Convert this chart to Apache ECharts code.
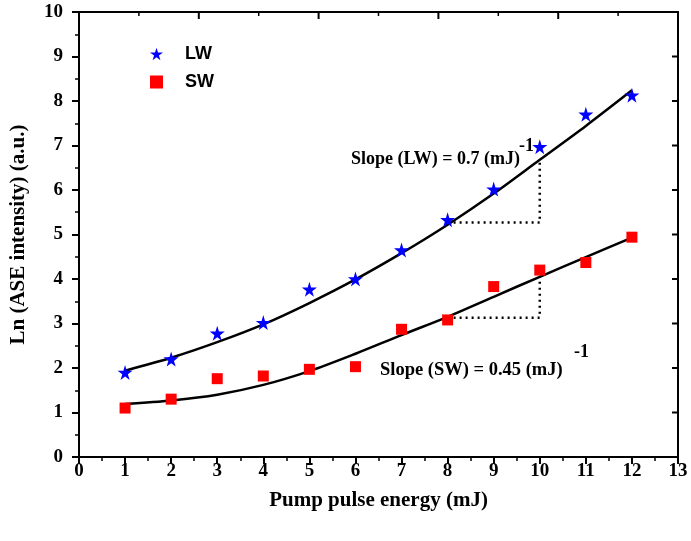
<!DOCTYPE html>
<html>
<head>
<meta charset="utf-8">
<script src="https://cdn.jsdelivr.net/npm/echarts@6/dist/echarts.min.js"></script>
<style>
  html, body { margin: 0; padding: 0; background: #fff; }
  #chart { width: 691px; height: 541px; }
</style>
</head>
<body>
<div id="chart"></div>
<script>
// measured points
var energy = [1, 2, 3, 4, 5, 6, 7, 8, 9, 10, 11, 12];
var lwData = [1.9, 2.2, 2.78, 3.02, 3.77, 4.0, 4.65, 5.33, 6.02, 6.97, 7.7, 8.13];
var swData = [1.1, 1.3, 1.76, 1.82, 1.97, 2.03, 2.87, 3.08, 3.83, 4.2, 4.37, 4.94];
// fitted curves
var lwFit = [1.94, 2.23, 2.58, 2.98, 3.46, 3.99, 4.58, 5.22, 5.92, 6.68, 7.44, 8.24];
var swFit = [1.19, 1.27, 1.4, 1.62, 1.93, 2.32, 2.74, 3.15, 3.6, 4.05, 4.49, 4.93];
// slope triangles (x, y corner points)
var lwSlopeX = [8, 10, 10];
var lwSlopeY = [5.27, 5.27, 6.7];
var swSlopeX = [8, 10, 10];
var swSlopeY = [3.13, 3.13, 4.05];
// frame ticks on the top and right edges (1 = major, 0 = minor)
var topTickX = [1.3, 2.6, 3.9, 5.2, 6.5, 7.8, 9.1, 10.4, 11.7];
var topTickMajor = [0, 1, 0, 1, 0, 1, 0, 1, 0];
var rightTickY = [1, 2, 3, 4, 5, 6, 7, 8, 9];

var serif = 'Liberation Serif';
var sans = 'Liberation Sans';
var starPath = 'path://M50,0 L61,35 L98,35 L68,57 L79,91 L50,70 L21,91 L32,57 L2,35 L39,35 Z';

function pairs(xs, ys) {
  return xs.map(function (x, i) { return [x, ys[i]]; });
}

var myChart = echarts.init(document.getElementById('chart'));
var option = {
  animation: false,
  grid: { left: 79, right: 13, top: 12, bottom: 84, outerBoundsMode: 'none' },
  legend: {
    data: ['LW', 'SW'],
    orient: 'vertical',
    left: 145,
    top: 40,
    itemGap: 10,
    itemWidth: 13,
    itemHeight: 13,
    textStyle: { fontFamily: sans, fontWeight: 'bold', fontSize: 18, color: '#000', padding: [0, 0, 0, 17] }
  },
  xAxis: [{
    type: 'value',
    min: 0, max: 13, interval: 1,
    name: 'Pump pulse energy (mJ)',
    nameLocation: 'middle',
    nameGap: 33,
    nameTextStyle: { fontFamily: serif, fontWeight: 'bold', fontSize: 21, color: '#000' },
    axisLine: { onZero: false, lineStyle: { color: '#000', width: 2 } },
    axisTick: { inside: false, length: 7, lineStyle: { color: '#000', width: 2 } },
    minorTick: { show: true, splitNumber: 2, length: 4, lineStyle: { color: '#000', width: 1.5 } },
    axisLabel: { fontFamily: serif, fontWeight: 'bold', fontSize: 19, color: '#000', margin: 5 },
    splitLine: { show: false }
  }, {
    type: 'value',
    position: 'top',
    min: 0, max: 10, interval: 1,
    axisLine: { show: true, onZero: false, lineStyle: { color: '#000', width: 2 } },
    axisTick: { show: false },
    axisLabel: { show: false },
    splitLine: { show: false }
  }],
  yAxis: [{
    type: 'value',
    min: 0, max: 10, interval: 1,
    name: 'Ln (ASE intensity) (a.u.)',
    nameLocation: 'middle',
    nameGap: 50,
    nameTextStyle: { fontFamily: serif, fontWeight: 'bold', fontSize: 21, color: '#000' },
    axisLine: { show: true, onZero: false, lineStyle: { color: '#000', width: 2 } },
    axisTick: { inside: false, length: 7, lineStyle: { color: '#000', width: 2 } },
    minorTick: { show: true, splitNumber: 2, length: 4, lineStyle: { color: '#000', width: 1.5 } },
    axisLabel: { fontFamily: serif, fontWeight: 'bold', fontSize: 19, color: '#000', margin: 16 },
    splitLine: { show: false }
  }, {
    type: 'value',
    position: 'right',
    min: 0, max: 10, interval: 1,
    axisLine: { show: true, onZero: false, lineStyle: { color: '#000', width: 2 } },
    axisTick: { show: false },
    axisLabel: { show: false },
    splitLine: { show: false }
  }],
  series: [
    {
      name: 'LW fit', type: 'line', smooth: 0.3, symbol: 'none',
      lineStyle: { color: '#000', width: 2.5 },
      data: pairs(energy, lwFit), z: 2
    },
    {
      name: 'SW fit', type: 'line', smooth: 0.3, symbol: 'none',
      lineStyle: { color: '#000', width: 2.5 },
      data: pairs(energy, swFit), z: 2
    },
    {
      name: 'LW slope', type: 'line', symbol: 'none',
      lineStyle: { color: '#000', width: 2.5, type: [2, 4] },
      data: pairs(lwSlopeX, lwSlopeY), z: 1
    },
    {
      name: 'SW slope', type: 'line', symbol: 'none',
      lineStyle: { color: '#000', width: 2.5, type: [2, 4] },
      data: pairs(swSlopeX, swSlopeY), z: 1
    },
    {
      name: 'LW', type: 'scatter', symbol: starPath, symbolSize: 15,
      itemStyle: { color: '#0000ff', opacity: 1 },
      data: pairs(energy, lwData), z: 3
    },
    {
      name: 'SW', type: 'scatter', symbol: 'rect', symbolSize: 11,
      itemStyle: { color: '#ff0000', opacity: 1 },
      data: pairs(energy, swData), z: 3
    },
    {
      // inward ticks along the top edge
      name: 'top ticks', type: 'custom', silent: true, clip: false,
      data: pairs(topTickX, topTickMajor),
      renderItem: function (params, api) {
        var p = api.coord([api.value(0), 10]);
        var len = api.value(1) ? 7 : 4;
        return {
          type: 'line',
          shape: { x1: p[0], y1: p[1], x2: p[0], y2: p[1] + len },
          style: { stroke: '#000', lineWidth: api.value(1) ? 2 : 1.5 }
        };
      }
    },
    {
      // inward ticks along the right edge
      name: 'right ticks', type: 'custom', silent: true, clip: false,
      data: rightTickY.map(function (y) { return [13, y]; }),
      renderItem: function (params, api) {
        var p = api.coord([api.value(0), api.value(1)]);
        return {
          type: 'line',
          shape: { x1: p[0], y1: p[1], x2: p[0] - 6, y2: p[1] },
          style: { stroke: '#000', lineWidth: 2 }
        };
      }
    }
  ],
  graphic: [
    { type: 'text', left: 351, top: 150, style: { text: 'Slope (LW) = 0.7 (mJ)', fontFamily: serif, fontWeight: 'bold', fontSize: 18, fill: '#000' } },
    { type: 'text', left: 519, top: 137, style: { text: '-1', fontFamily: serif, fontWeight: 'bold', fontSize: 18, fill: '#000' } },
    { type: 'text', left: 380, top: 361, style: { text: 'Slope (SW) = 0.45 (mJ)', fontFamily: serif, fontWeight: 'bold', fontSize: 18.5, fill: '#000' } },
    { type: 'text', left: 574, top: 343, style: { text: '-1', fontFamily: serif, fontWeight: 'bold', fontSize: 18, fill: '#000' } }
  ]
};
myChart.setOption(option, true);
</script>
</body>
</html>
